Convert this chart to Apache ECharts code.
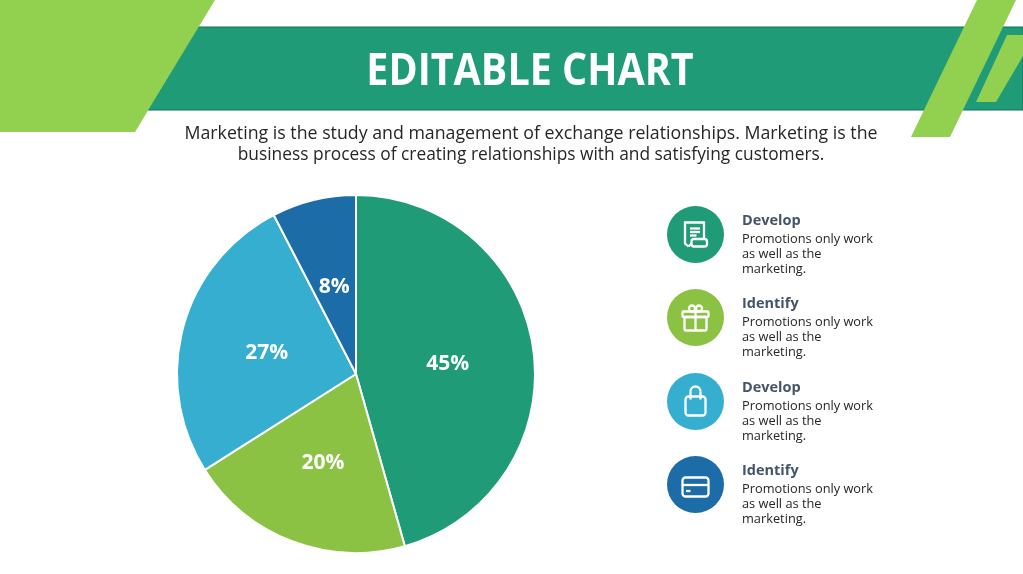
<!DOCTYPE html>
<html>
<head>
<meta charset="utf-8">
<style>
  html, body { margin: 0; padding: 0; background: #fff; }
  #main { width: 1023px; height: 574px; }
</style>
<script src="https://cdn.jsdelivr.net/npm/echarts@6/dist/echarts.min.js"></script>
</head>
<body>
<div id="main"></div>
<script>
// chart values
var categories = ['Develop', 'Identify', 'Develop', 'Identify'];
var values = [45.6, 20.4, 26.4, 7.6];
var sliceLabels = ['45%', '20%', '27%', '8%'];
var sliceColors = ['#1f9b78', '#8cc244', '#36aed0', '#1c6ca8'];
var legendText = ['Promotions only work', 'as well as the', 'marketing.'];
var titleText = 'EDITABLE CHART';
var subtitleLines = [
    'Marketing is the study and management of exchange relationships. Marketing is the',
    'business process of creating relationships with and satisfying customers.'
];

var FONT = '"Open Sans", Lato, sans-serif';
var LIME = '#92d050';
var circleY = [234.5, 317.5, 401.5, 484.5];
var subtitleSizes = [17.75, 17.35];

// icon parts, coordinates are relative to the centre of each circle
function line(points) { return { type: 'polyline', shape: { points: points } }; }
function box(x, y, width, height, r) { return { type: 'rect', shape: { x: x, y: y, width: width, height: height, r: r } }; }
function loop(cx, cy, r) { return { type: 'circle', shape: { cx: cx, cy: cy, r: r } }; }

var icons = [
    // scroll
    [line([[-7, 12], [-10.5, 9], [-10.5, -12], [8.5, -12], [8.5, 4]]),
     box(-4, 4.5, 15.5, 7.5, 2.5), line([[-7, 12], [-4, 9]]),
     line([[-5.5, -6], [4.5, -6]]), line([[-5.5, -2.5], [4.5, -2.5]]), line([[-5.5, 1], [1, 1]])],
    // gift
    [box(-13, -6, 26, 5.5, 1), box(-11, -0.5, 22, 13.5, 1), line([[0, -6], [0, 13]]),
     loop(-3.5, -9, 3), loop(3.5, -9, 3)],
    // bag
    [box(-10, -5, 20, 19, 3),
     { type: 'arc', shape: { cx: 0, cy: -10, r: 5, startAngle: Math.PI, endAngle: 0 } },
     line([[-5, -10], [-5, -2]]), line([[5, -10], [5, -2]])],
    // card
    [box(-13, -7, 26, 19, 3), line([[-13, 0.5], [13, 0.5]]), line([[-9.5, 6.5], [-5, 6.5]])]
];

var graphics = [
    // header band
    { type: 'polygon', shape: { points: [[198, 27], [1023, 27], [1023, 110], [148, 110]] },
      style: { fill: '#1f9b78', stroke: '#17705a', lineWidth: 1 } },
    { type: 'polygon', shape: { points: [[0, 0], [215, 0], [135, 132], [0, 132]] }, style: { fill: LIME } },
    { type: 'polygon', shape: { points: [[977, 0], [1016, 0], [950, 137], [911, 137]] }, style: { fill: LIME } },
    { type: 'polygon', shape: { points: [[1007, 35], [1023, 35], [1023, 56], [996, 102], [976, 102]] }, style: { fill: LIME } },
    { type: 'text', x: 530, y: 72.5, scaleY: 1.12,
      style: { text: titleText, fill: '#fff', font: 'bold 39.5px ' + FONT, textAlign: 'center', textVerticalAlign: 'middle' } }
];

subtitleLines.forEach(function (text, i) {
    graphics.push({ type: 'text', x: 531, y: 134 + i * 21,
        style: { text: text, fill: '#262626', font: subtitleSizes[i] + 'px ' + FONT, textAlign: 'center', textVerticalAlign: 'middle' } });
});

categories.forEach(function (name, i) {
    var cy = circleY[i];
    graphics.push({ type: 'circle', shape: { cx: 695.5, cy: cy, r: 28.5 }, style: { fill: sliceColors[i] } });
    graphics.push({
        type: 'group', x: 695.5, y: cy,
        children: icons[i].map(function (part) {
            part.style = { fill: 'none', stroke: '#fff', lineWidth: 2.3 };
            return part;
        })
    });
    graphics.push({ type: 'text', x: 742, y: cy - 14,
        style: { text: name, fill: '#44546a', font: 'bold 14.5px ' + FONT, textVerticalAlign: 'middle' } });
    legendText.forEach(function (text, j) {
        graphics.push({ type: 'text', x: 742, y: cy + 5 + j * 15,
            style: { text: text, fill: '#262626', font: '12.8px ' + FONT, textVerticalAlign: 'middle' } });
    });
});

var chart = echarts.init(document.getElementById('main'));
chart.setOption({
    animation: false,
    backgroundColor: '#fff',
    graphic: graphics,
    series: [{
        type: 'pie',
        center: [356, 374],
        radius: [0, 179],
        startAngle: 90,
        clockwise: true,
        itemStyle: { borderColor: '#fff', borderWidth: 2 },
        label: {
            position: 'inside',
            formatter: function (p) { return sliceLabels[p.dataIndex]; },
            color: '#fff',
            fontFamily: FONT,
            fontWeight: 'bold',
            fontSize: 21
        },
        labelLayout: { dy: 3 },
        labelLine: { show: false },
        emphasis: { disabled: true },
        data: values.map(function (v, i) {
            return { value: v, name: categories[i], itemStyle: { color: sliceColors[i] } };
        })
    }]
});
</script>
</body>
</html>
